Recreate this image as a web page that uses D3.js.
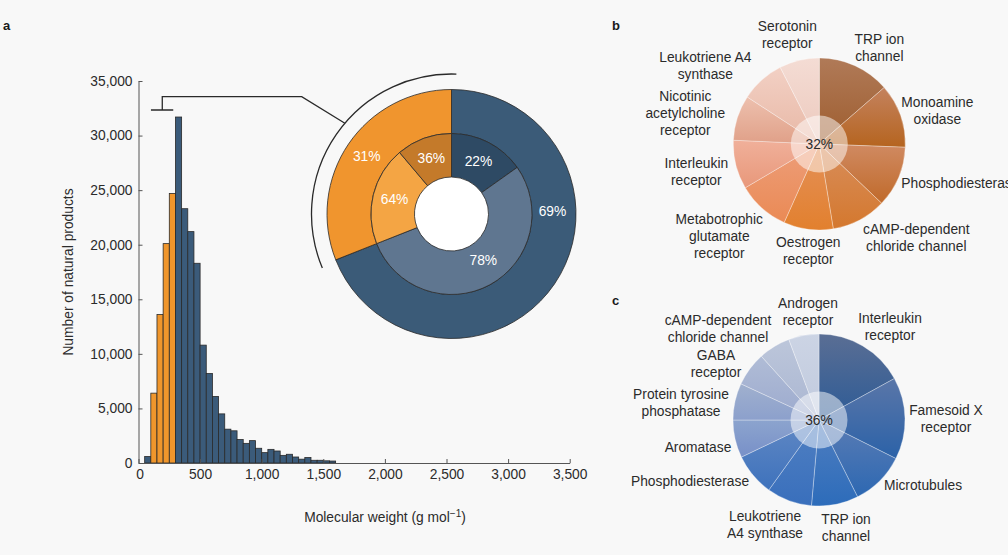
<!DOCTYPE html>
<html><head><meta charset="utf-8">
<script src="https://cdn.jsdelivr.net/npm/d3@7"></script>
<style>
html,body{margin:0;padding:0;background:#f8f8f8;}
text{font-family:"Liberation Sans",Arial,sans-serif;}
</style></head>
<body><svg id="chart" width="1008" height="555"></svg>
<script>
// ---------- DATA ----------
const binStarts = [50,100,150,200,250,300,350,400,450,500,550,600,650,700,750,800,850,900,950,1000,1050,1100,1150,1200,1250,1300,1350,1400,1450,1500,1550];
const binCounts = [600,6400,13600,20100,24700,31700,23300,21200,18300,10800,8200,6100,4500,3100,2950,2150,1800,2050,1350,950,1250,1100,700,800,550,350,500,250,250,200,180];
const binWidth = 50;
const highlightRange = [100, 300];
const xTicks = [0,500,1000,1500,2000,2500,3000,3500];
const yTicks = [0,5000,10000,15000,20000,25000,30000,35000];

const outerGroups = ["above", "within"];
const outerShares = [69, 31];
const innerShares = [[22, 78], [64, 36]]; // above: [22,78], within: [64 (light), 36 (dark)] -> ordered clockwise

const bLabels = [["TRP ion","channel"],["Monoamine","oxidase"],["Phosphodiesterase"],["cAMP-dependent","chloride channel"],["Oestrogen","receptor"],["Metabotrophic","glutamate","receptor"],["Interleukin","receptor"],["Nicotinic","acetylcholine","receptor"],["Leukotriene A4","synthase"],["Serotonin","receptor"]];
const bValues = [13.6,12.0,11.5,10.3,9.3,9.8,9.2,8.5,8.3,7.5];
const bCenterValue = "32%";

const cLabels = [["Interleukin","receptor"],["Famesoid X","receptor"],["Microtubules"],["TRP ion","channel"],["Leukotriene","A4 synthase"],["Phosphodiesterase"],["Aromatase"],["Protein tyrosine","phosphatase"],["GABA","receptor"],["cAMP-dependent","chloride channel"],["Androgen","receptor"]];
const cValues = [17.0,15.4,10.2,8.8,8.5,8.0,7.1,6.9,6.4,6.0,5.7];
const cCenterValue = "36%";

// ---------- STYLE / LAYOUT ----------
const bColors = [["#b07a58","#9e5d2e"],["#c4825e","#b5641f"],["#d08a62","#c06a2a"],["#d88e5c","#d4782e"],["#e4915a","#e2802e"],["#ed9e7a","#ea8a55"],["#f0b09a","#e8987a"],["#edc0ae","#e0a088"],["#f2d0c4","#e8b8a6"],["#f4dcd4","#ecc9bd"]];
const cColors = [["#5a6e94","#2d5b96"],["#5a76a8","#2b62a8"],["#5a7cb4","#2d68b2"],["#4f7ec0","#2d6cba"],["#5080c2","#396fbc"],["#6088c4","#3e72bc"],["#8ca4ce","#7890c8"],["#a0b0ce","#8ca0cc"],["#b0bcd6","#9caace"],["#bcc6da","#aab6d2"],["#ccd4e4","#c0cade"]];
const bLabelPos = [[60,-96],[118,-33],[82,39,"start"],[97,94],[-11,107],[-100,92],[-123,28],[-134,-31],[-114,-78],[-32,-109]];
const cLabelPos = [[71,-93],[127,-1],[104,65],[27,108],[-54,105],[-129,61],[-121,27],[-138,-17],[-103,-56],[-101,-91],[-11,-108]];

const svg = d3.select("#chart");
svg.append("rect").attr("width",1008).attr("height",555).attr("fill","#f8f8f8");
const defs = svg.append("defs");
const TXT = "#2b2b2b";
const LINE = "#2a2a2a";

// ---------- PANEL A: HISTOGRAM ----------
const x = d3.scaleLinear().domain([0,3500]).range([138.5,569.7]);
const y = d3.scaleLinear().domain([0,35000]).range([463,81]);

const bars = binStarts.map((s,i)=>({x0:s,x1:s+binWidth,n:binCounts[i]}));
svg.append("g").selectAll("rect").data(bars).join("rect")
  .attr("x",d=>x(d.x0)).attr("width",d=>x(d.x1)-x(d.x0))
  .attr("y",d=>y(d.n)).attr("height",d=>y(0)-y(d.n))
  .attr("fill",d=>(d.x0>=highlightRange[0]&&d.x0<highlightRange[1])?"#f0962c":"#3b5b7a")
  .attr("stroke",LINE).attr("stroke-width",0.8);

const xAxis = svg.append("g").attr("transform",`translate(0,${y(0)})`)
  .call(d3.axisBottom(x).tickValues(xTicks).tickFormat(d3.format(",")).tickSizeInner(-4).tickSizeOuter(0).tickPadding(6));
const yAxis = svg.append("g").attr("transform",`translate(${x(0)},0)`)
  .call(d3.axisLeft(y).tickValues(yTicks).tickFormat(d3.format(",")).tickSizeInner(-4).tickSizeOuter(0).tickPadding(6));
[xAxis,yAxis].forEach(g=>{
  g.selectAll("path,line").attr("stroke","#555").attr("stroke-width",1);
  g.selectAll("text").attr("fill",TXT).style("font-size","13.8px").style("font-family","Liberation Sans, Arial, sans-serif");
});
xAxis.select(".tick text").attr("dx","1px");

svg.append("text").attr("transform","translate(68,272) rotate(-90)")
  .attr("text-anchor","middle").attr("dominant-baseline","central")
  .attr("fill",TXT).style("font-size","13.8px").text("Number of natural products");
const xl = svg.append("text").attr("x",385).attr("y",522).attr("text-anchor","middle")
  .attr("fill",TXT).style("font-size","13.8px");
xl.append("tspan").text("Molecular weight (g mol");
xl.append("tspan").attr("dy","-5").style("font-size","10px").text("\u22121");
xl.append("tspan").attr("dy","5").text(")");

// ---------- DONUT ----------
const dc = [451.5, 214];
const donut = svg.append("g").attr("transform",`translate(${dc[0]},${dc[1]})`);
const pie = d3.pie().sort(null).value(d=>d);
const outerArcs = pie(outerShares);
const innerVals = [outerShares[0]*innerShares[0][0]/100, outerShares[0]*innerShares[0][1]/100,
                   outerShares[1]*innerShares[1][0]/100, outerShares[1]*innerShares[1][1]/100];
const innerArcs = pie(innerVals);
const Rin = 37, Rmid = 80.5, Rout = 124.5;
const arcOuter = d3.arc().innerRadius(Rmid).outerRadius(Rout);
const arcInner = d3.arc().innerRadius(Rin).outerRadius(Rmid);
const outerFill = ["#3b5b78","#f0952e"];
const innerFill = ["#2e4a64","#5f7690","#f4a544","#c47a2a"];
donut.append("circle").attr("r",Rin).attr("fill","#ffffff");
donut.selectAll("path.o").data(outerArcs).join("path").attr("class","o")
  .attr("d",arcOuter).attr("fill",(d,i)=>outerFill[i]).attr("stroke",LINE).attr("stroke-width",0.8);
donut.selectAll("path.i").data(innerArcs).join("path").attr("class","i")
  .attr("d",arcInner).attr("fill",(d,i)=>innerFill[i]).attr("stroke",LINE).attr("stroke-width",0.8);
const lbl = (pos,t)=>donut.append("text").attr("x",pos[0]).attr("y",pos[1]).attr("text-anchor","middle")
  .attr("dominant-baseline","central").attr("fill","#ffffff").style("font-size","13.8px").text(t);
// outer labels
const oc1 = arcOuter.centroid(outerArcs[1]);
lbl(oc1, outerShares[1]+"%");
const a69 = 88.5*Math.PI/180, r69 = 101;
lbl([r69*Math.sin(a69), -r69*Math.cos(a69)], outerShares[0]+"%");
// inner labels
const innerText = [innerShares[0][0],innerShares[0][1],innerShares[1][0],innerShares[1][1]];
innerArcs.forEach((a,i)=>{
  let c = arcInner.centroid(a);
  if(i===1){ const ang=(145.7)*Math.PI/180; c=[56.5*Math.sin(ang),-56.5*Math.cos(ang)]; }
  lbl(c, innerText[i]+"%");
});

// bracket arc + connector
const Rb = 140;
const bracketArc = d3.arc().innerRadius(Rb).outerRadius(Rb)
  .startAngle(-112.7*Math.PI/180).endAngle(2*Math.PI/180);
donut.append("path").attr("d",bracketArc()).attr("fill","none").attr("stroke",LINE).attr("stroke-width",1.3);
const ca = -49.6*Math.PI/180;
const cEnd = [dc[0]+Rb*Math.sin(ca), dc[1]-Rb*Math.cos(ca)];
const stemX = x(193), topY = 96.7, brY = 110;
svg.append("path")
  .attr("d",`M${x(101)},${brY}H${x(282)}M${stemX},${brY}V${topY}H301.7L${cEnd[0]},${cEnd[1]}`)
  .attr("fill","none").attr("stroke",LINE).attr("stroke-width",1.3);

// ---------- PIES B & C ----------
function drawPie(id, center, values, labels, colors, labelPos, centerText){
  const g = svg.append("g").attr("transform",`translate(${center[0]},${center[1]})`);
  const arcs = d3.pie().sort(null)(values);
  const arc = d3.arc().innerRadius(0).outerRadius(86);
  colors.forEach((c,i)=>{
    const gr = defs.append("linearGradient").attr("id",`${id}g${i}`)
      .attr("x1",0).attr("y1",0).attr("x2",0).attr("y2",1);
    gr.append("stop").attr("offset","0%").attr("stop-color",c[0]);
    gr.append("stop").attr("offset","100%").attr("stop-color",c[1]);
  });
  g.selectAll("path").data(arcs).join("path").attr("d",arc)
    .attr("fill",(d,i)=>`url(#${id}g${i})`)
    .attr("stroke","rgba(255,255,255,0.45)").attr("stroke-width",0.7);
  g.append("circle").attr("r",28.5).attr("fill","rgba(255,255,255,0.5)");
  g.append("text").attr("text-anchor","middle").attr("dominant-baseline","central")
    .attr("fill",TXT).style("font-size","13.8px").text(centerText);
  labels.forEach((lines,i)=>{
    const p = labelPos[i];
    const t = g.append("text").attr("text-anchor",p[2]||"middle").attr("fill",TXT).style("font-size","13.8px");
    const n = lines.length, lh = 16.7;
    lines.forEach((s,k)=>{
      t.append("tspan").attr("x",p[0]).attr("y",p[1]+(k-(n-1)/2)*lh).attr("dy","0.35em").text(s);
    });
  });
  return g;
}
drawPie("pb",[819.3,144],bValues,bLabels,bColors,bLabelPos,bCenterValue);
drawPie("pc",[819,420],cValues,cLabels,cColors,cLabelPos,cCenterValue);

// panel letters
[["a",3,30],["b",612,30],["c",612,305]].forEach(([t,px,py])=>{
  svg.append("text").attr("x",px).attr("y",py).attr("fill","#1a1a1a")
    .style("font-size","13px").style("font-weight","bold").text(t);
});
</script></body></html>
